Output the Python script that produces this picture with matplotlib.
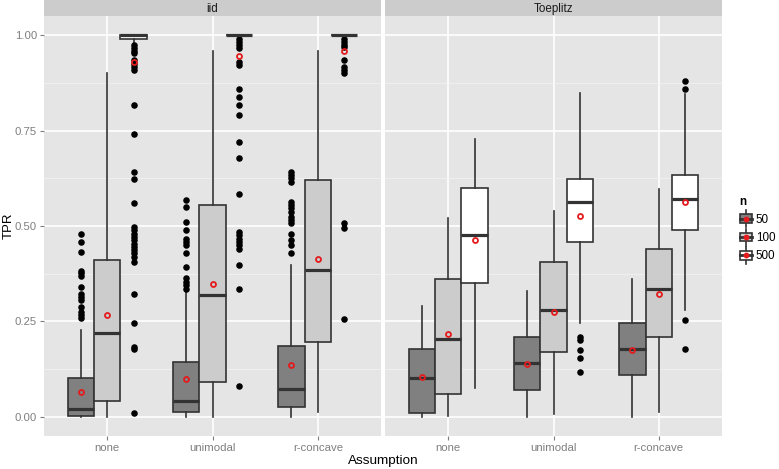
import numpy as np
import matplotlib
matplotlib.use("Agg")
import matplotlib.pyplot as plt
from matplotlib.patches import Rectangle, Patch
from matplotlib.lines import Line2D
from matplotlib.legend_handler import HandlerBase

plt.rcParams['font.family'] = ['Liberation Sans', 'DejaVu Sans']

assumptions = ["none", "unimodal", "r-concave"]
sizes = ["50", "100", "500"]
facets = ["iid", "Toeplitz"]
fills = ['#808080', '#CCCCCC', '#FFFFFF']

# boxplot summaries: [facet][assumption][n]
q1 = [[[0.002, 0.042, 0.989], [0.013, 0.092, 1.000], [0.026, 0.195, 1.000]],
      [[0.011, 0.060, 0.352], [0.070, 0.170, 0.457], [0.109, 0.210, 0.489]]]
med = [[[0.020, 0.220, 1.000], [0.041, 0.319, 1.000], [0.073, 0.384, 1.000]],
       [[0.101, 0.204, 0.476], [0.140, 0.280, 0.562], [0.179, 0.334, 0.570]]]
q3 = [[[0.101, 0.410, 1.000], [0.143, 0.554, 1.000], [0.186, 0.620, 1.000]],
      [[0.179, 0.360, 0.600], [0.210, 0.406, 0.623], [0.246, 0.441, 0.633]]]
whislo = [[[0.0, 0.0, 0.978], [0.0, 0.0, 1.0], [0.0, 0.013, 1.0]],
          [[0.0, 0.003, 0.076], [0.0, 0.007, 0.245], [0.0, 0.013, 0.280]]]
whishi = [[[0.227, 0.900, 1.0], [0.327, 0.959, 1.0], [0.399, 0.959, 1.0]],
          [[0.290, 0.520, 0.729], [0.329, 0.540, 0.849], [0.360, 0.598, 0.847]]]
means = [[[0.066, 0.268, 0.930], [0.100, 0.347, 0.945], [0.136, 0.414, 0.959]],
         [[0.105, 0.218, 0.463], [0.138, 0.274, 0.526], [0.175, 0.323, 0.562]]]

fliers = [
    [
        [[0.480, 0.458, 0.431, 0.383, 0.376, 0.368, 0.339, 0.321, 0.313, 0.306,
          0.287, 0.275, 0.266, 0.260],
         [],
         [0.974, 0.965, 0.958, 0.952, 0.935, 0.925, 0.917, 0.908, 0.816, 0.742,
          0.642, 0.622, 0.561, 0.498, 0.489, 0.480, 0.472, 0.463, 0.454, 0.445,
          0.437, 0.428, 0.419, 0.406, 0.323, 0.247, 0.183, 0.179, 0.011]],
        [[0.567, 0.549, 0.511, 0.489, 0.467, 0.458, 0.450, 0.428, 0.393, 0.363,
          0.354, 0.345, 0.336],
         [],
         [0.991, 0.983, 0.974, 0.965, 0.930, 0.921, 0.858, 0.837, 0.817, 0.792,
          0.719, 0.677, 0.583, 0.485, 0.476, 0.467, 0.458, 0.450, 0.441, 0.397,
          0.334, 0.080]],
        [[0.642, 0.634, 0.626, 0.616, 0.563, 0.555, 0.546, 0.537, 0.524, 0.516,
          0.508, 0.480, 0.463, 0.450, 0.428],
         [],
         [0.991, 0.983, 0.974, 0.969, 0.936, 0.917, 0.908, 0.900, 0.508, 0.494,
          0.256]],
    ],
    [
        [[], [], []],
        [[], [], [0.210, 0.201, 0.175, 0.155, 0.118]],
        [[], [], [0.880, 0.860, 0.253, 0.177]],
    ],
]

W, H = 779, 469
fig = plt.figure(figsize=(W / 100, H / 100), dpi=100)

panel_x = [44, 385]
panel_w = 337
top, bottom = 16, 436
offsets = [-0.25, 0.0, 0.25]
edge = '#333333'
red = '#E41A1C'

for f, facet in enumerate(facets):
    ax = fig.add_axes([panel_x[f] / W, (H - bottom) / H, panel_w / W, (bottom - top) / H])
    ax.set_facecolor('#E5E5E5')
    for s in ax.spines.values():
        s.set_visible(False)
    ax.set_axisbelow(True)

    for a in range(3):
        stats, pos = [], []
        for k in range(3):
            stats.append(dict(med=med[f][a][k], q1=q1[f][a][k], q3=q3[f][a][k],
                              whislo=whislo[f][a][k], whishi=whishi[f][a][k],
                              mean=means[f][a][k], fliers=np.array(fliers[f][a][k])))
            pos.append(a + 1 + offsets[k])
        bp = ax.bxp(stats, positions=pos, widths=0.25, patch_artist=True,
                    showmeans=True, showcaps=False,
                    boxprops=dict(edgecolor=edge, linewidth=1.2),
                    whiskerprops=dict(color=edge, linewidth=1.2),
                    medianprops=dict(color=edge, linewidth=2.3),
                    meanprops=dict(marker='o', markerfacecolor='none',
                                   markeredgecolor=red, markersize=3.6,
                                   markeredgewidth=1.3),
                    flierprops=dict(marker='o', markerfacecolor='black',
                                    markeredgecolor='black', markersize=3.7))
        for k, box in enumerate(bp['boxes']):
            box.set_facecolor(fills[k])
        for m in bp['means']:
            m.set_zorder(5)

    ax.set_xlim(0.4, 3.6)
    ax.set_ylim(-0.05, 1.05)
    ax.set_xticks([1, 2, 3])
    ax.set_xticklabels(assumptions)
    ax.set_yticks([0, 0.25, 0.5, 0.75, 1.0])
    ax.set_yticks([0.125, 0.375, 0.625, 0.875], minor=True)
    ax.grid(True, which='major', color='white', linewidth=1.2)
    ax.grid(True, which='minor', axis='y', color='#F2F2F2', linewidth=0.6)
    ax.tick_params(axis='both', which='major', colors='#7F7F7F', labelsize=8.2,
                   length=3, width=0.8, pad=2)
    ax.tick_params(axis='both', which='minor', length=0)
    for lab in ax.get_xticklabels() + ax.get_yticklabels():
        lab.set_color('#7F7F7F')
    if f == 0:
        ax.set_yticklabels(['0.00', '0.25', '0.50', '0.75', '1.00'])
    else:
        ax.tick_params(axis='y', which='major', left=False, labelleft=False)

    # facet strip
    sx = fig.add_axes([panel_x[f] / W, (H - top) / H, panel_w / W, top / H])
    sx.set_facecolor('#CCCCCC')
    sx.set_xticks([])
    sx.set_yticks([])
    for s in sx.spines.values():
        s.set_visible(False)
    sx.text(0.5, 0.45, facet, ha='center', va='center', fontsize=8.4,
            color='#1A1A1A', transform=sx.transAxes)

fig.text((44 + 722) / 2 / W, 2 / H, 'Assumption', ha='center', va='bottom', fontsize=9.7)
fig.text(8.5 / W, (H - 226) / H, 'TPR', rotation=90, ha='center', va='center', fontsize=9.5)


class BoxKey(HandlerBase):
    def create_artists(self, legend, orig_handle, xdescent, ydescent,
                       width, height, fontsize, trans):
        x0, y0 = -xdescent, -ydescent
        cx, cy = x0 + width / 2, y0 + height / 2
        bw, bh = width * 0.9, height * 0.6
        wl = Line2D([cx, cx], [y0 - 1, y0 + height + 1], color=edge, lw=1.2)
        rect = Rectangle((cx - bw / 2, cy - bh / 2), bw, bh,
                         facecolor=orig_handle.get_facecolor(), edgecolor=edge, lw=1.2)
        md = Line2D([cx - bw / 2, cx + bw / 2], [cy, cy], color=edge, lw=2.0)
        dot = Line2D([cx], [cy], marker='o', color=red, markersize=3.2)
        arts = [wl, rect, md, dot]
        for art in arts:
            art.set_transform(trans)
        return arts


handles = [Patch(facecolor=c) for c in fills]
leg = fig.legend(handles, sizes, title='n', loc='center left',
                 bbox_to_anchor=(739 / W, (H - 229) / H), frameon=False,
                 handler_map={Patch: BoxKey()}, fontsize=8.4, title_fontsize=8.4,
                 handlelength=1.15, handleheight=1.5, handletextpad=0.3,
                 labelspacing=0.35, borderaxespad=0, borderpad=0)
leg.get_title().set_fontweight('bold')
leg._legend_box.align = 'left'

fig.savefig('out.png', dpi=100)
